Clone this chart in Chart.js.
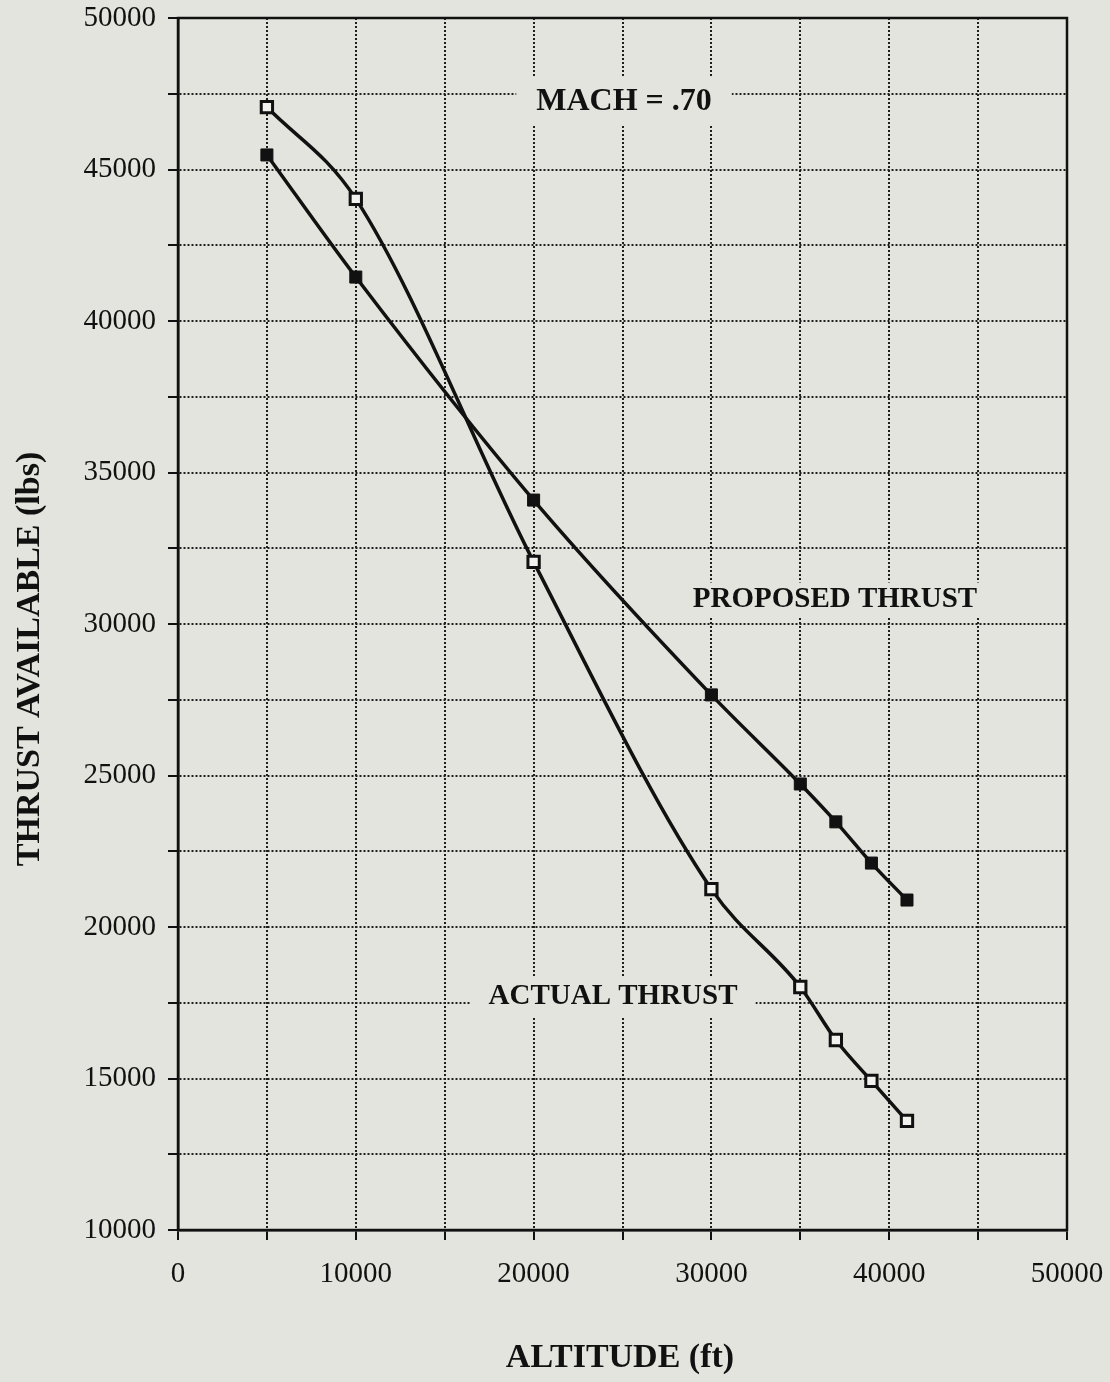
<!DOCTYPE html>
<html>
<head>
<meta charset="utf-8">
<script src="https://cdn.jsdelivr.net/npm/chart.js@4/dist/chart.umd.min.js"></script>
<style>
  html, body { margin: 0; padding: 0; background: #e4e4de; }
  #wrap { width: 1110px; height: 1382px; }
</style>
</head>
<body>
<div id="wrap"><canvas id="c" width="1110" height="1382"></canvas></div>
<script>
// ---- data ----
const altitudes = [5000, 10000, 20000, 30000, 35000, 37000, 39000, 41000];
const actualThrust = [47060, 44030, 32050, 21250, 18020, 16270, 14920, 13600];
const proposedThrust = [45480, 41450, 34090, 27660, 24720, 23470, 22110, 20890];
const xTitle = 'ALTITUDE (ft)';
const yTitle = 'THRUST AVAILABLE (lbs)';
const machLabel = 'MACH = .70';
const proposedLabel = 'PROPOSED THRUST';
const actualLabel = 'ACTUAL THRUST';

const BG = '#e4e4de';
const SERIF = '"Liberation Serif", "Times New Roman", serif';

const toPts = (xs, ys) => xs.map((x, i) => ({ x: x, y: ys[i] }));

const decor = {
  id: 'decor',
  beforeDraw(chart) {
    const ctx = chart.ctx;
    ctx.save();
    ctx.fillStyle = BG;
    ctx.fillRect(0, 0, chart.width, chart.height);
    ctx.restore();
  },
  beforeDatasetsDraw(chart) {
    const ctx = chart.ctx;
    const a = chart.chartArea;
    ctx.save();
    // frame
    ctx.strokeStyle = '#111';
    ctx.lineWidth = 2.5;
    ctx.strokeRect(a.left, a.top, a.right - a.left, a.bottom - a.top);
    // annotation labels with background boxes
    const label = (text, cx, cy, size, padX, padY) => {
      ctx.font = 'bold ' + size + 'px ' + SERIF;
      const w = ctx.measureText(text).width;
      ctx.fillStyle = BG;
      ctx.fillRect(cx - w / 2 - padX, cy - size / 2 - padY, w + 2 * padX, size + 2 * padY);
      ctx.fillStyle = '#111';
      ctx.textAlign = 'center';
      ctx.textBaseline = 'middle';
      ctx.fillText(text, cx, cy);
    };
    label(machLabel, 624, 102, 32, 20, 8);
    label(proposedLabel, 835, 600, 29, 4, 3);
    label(actualLabel, 613, 997, 29, 18, 6);
    ctx.restore();
  },
  afterDraw(chart) {
    const ctx = chart.ctx;
    ctx.save();
    ctx.fillStyle = '#111';
    ctx.font = 'bold 34px ' + SERIF;
    ctx.textAlign = 'center';
    ctx.textBaseline = 'middle';
    ctx.fillText(xTitle, 620, 1358);
    ctx.translate(30, 659);
    ctx.rotate(-Math.PI / 2);
    ctx.fillText(yTitle, 0, 0);
    ctx.restore();
  }
};

const gridOpts = {
  color: '#1e1e1e',
  lineWidth: 2,
  tickLength: 10,
  tickColor: '#111',
  tickWidth: 2
};

new Chart(document.getElementById('c'), {
  type: 'line',
  data: {
    datasets: [
      {
        label: 'Proposed Thrust',
        data: toPts(altitudes, proposedThrust),
        borderColor: '#111',
        borderWidth: 3.5,
        pointStyle: 'rect',
        pointRadius: 8.5,
        pointBackgroundColor: '#111',
        pointBorderColor: '#111',
        pointBorderWidth: 1,
        cubicInterpolationMode: 'monotone',
        fill: false
      },
      {
        label: 'Actual Thrust',
        data: toPts(altitudes, actualThrust),
        borderColor: '#111',
        borderWidth: 3.5,
        pointStyle: 'rect',
        pointRadius: 8,
        pointBackgroundColor: '#f2f2ee',
        pointBorderColor: '#111',
        pointBorderWidth: 3,
        cubicInterpolationMode: 'monotone',
        fill: false
      }
    ]
  },
  options: {
    responsive: false,
    animation: false,
    devicePixelRatio: 1,
    layout: { padding: { left: 0, right: 43, top: 18, bottom: 0 } },
    plugins: { legend: { display: false }, tooltip: { enabled: false } },
    scales: {
      x: {
        type: 'linear',
        min: 0, max: 50000,
        afterFit(s) { s.height = 152; s.paddingLeft = 0; s.paddingRight = 0; },
        ticks: {
          stepSize: 5000,
          autoSkip: false,
          maxRotation: 0,
          padding: 17,
          color: '#111',
          font: { family: SERIF, size: 29 },
          callback: v => (v % 10000 === 0 ? String(v) : '')
        },
        grid: gridOpts,
        border: { color: '#111', width: 2.5, dash: [2, 2] }
      },
      y: {
        type: 'linear',
        min: 10000, max: 50000,
        afterFit(s) { s.width = 178; s.paddingTop = 0; s.paddingBottom = 0; },
        ticks: {
          stepSize: 2500,
          autoSkip: false,
          padding: 12,
          color: '#111',
          font: { family: SERIF, size: 29 },
          callback: v => (v % 5000 === 0 ? String(v) : '')
        },
        grid: gridOpts,
        border: { color: '#111', width: 2.5, dash: [2, 2] }
      }
    }
  },
  plugins: [decor]
});
</script>
</body>
</html>
